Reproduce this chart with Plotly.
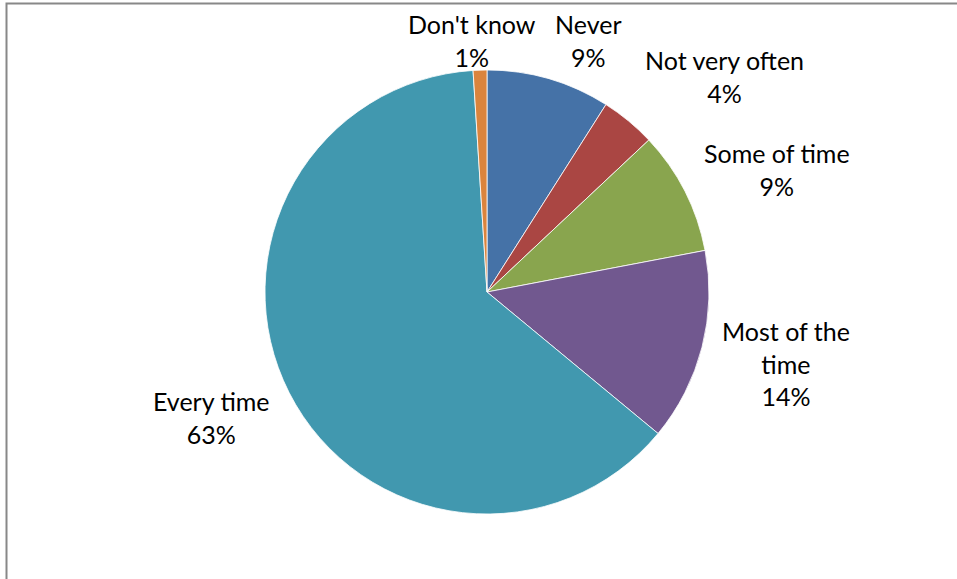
import plotly.graph_objects as go

# ---- data ----
categories = ["Never", "Not very often", "Some of time", "Most of the time", "Every time", "Don't know"]
values = [9, 4, 9, 14, 63, 1]
display_labels = ["Never", "Not very often", "Some of time", "Most of the<br>time", "Every time", "Don't know"]

# ---- style ----
colors = ["#4572A7", "#AA4643", "#89A54E", "#71588F", "#4198AF", "#DB843D"]
FONT = "Lato"
FSIZE = 25

W, H = 957, 579
# pie geometry in pixels
CX, CY, R = 487, 292, 222
ML, MR = CX - R, W - (CX + R)
MT, MB = CY - R, H - (CY + R)
PW = PH = 2 * R

# label centre offsets (pixels from pie centre), Excel "best fit" placement
label_offsets = [(101, -252), (237, -215), (290, -123), (299, 71), (-276, 125), (-15, -252)]


def px_to_paper(px, py):
    return (px - ML) / PW, (H - MB - py) / PH


fig = go.Figure(go.Pie(
    labels=categories,
    values=values,
    sort=False,
    direction="clockwise",
    rotation=0,
    marker=dict(colors=colors, line=dict(color="white", width=0.8)),
    textinfo="none",
    hoverinfo="label+percent",
    showlegend=False,
))

total = sum(values)
annotations = []
for lab, v, (dx, dy) in zip(display_labels, values, label_offsets):
    x, y = px_to_paper(CX + dx, CY + dy)
    annotations.append(dict(
        x=x, y=y, xref="paper", yref="paper",
        text=f"{lab}<br>{round(v / total * 100)}%",
        showarrow=False, xanchor="center", yanchor="middle",
        align="center",
        font=dict(family=FONT, size=FSIZE, color="#000000"),
    ))

# chart-area border (gray frame, partly cut off by the image edge)
bx0, by0 = px_to_paper(6.5, 3.5)
bx1, by1 = px_to_paper(W + 5, H + 5)
shapes = [dict(type="rect", xref="paper", yref="paper",
               x0=bx0, y0=by1, x1=bx1, y1=by0,
               line=dict(color="#888888", width=2), fillcolor="rgba(0,0,0,0)",
               layer="above")]

fig.update_layout(
    width=W, height=H,
    margin=dict(l=ML, r=MR, t=MT, b=MB, autoexpand=False),
    paper_bgcolor="white",
    plot_bgcolor="white",
    font=dict(family=FONT, size=FSIZE, color="#000000"),
    annotations=annotations,
    shapes=shapes,
)

fig.write_html("out.html", config={"displayModeBar": False},
               post_script="document.body.style.margin='0';document.body.style.overflow='hidden';")
